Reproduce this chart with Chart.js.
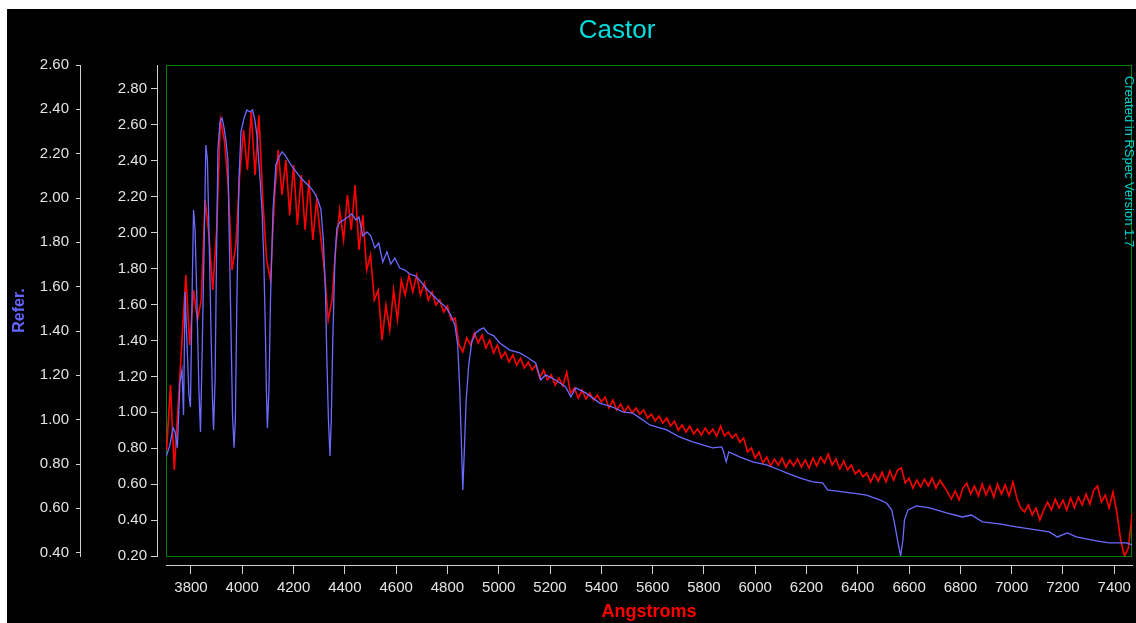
<!DOCTYPE html>
<html><head><meta charset="utf-8">
<script src="https://cdn.jsdelivr.net/npm/chart.js@4.4.1/dist/chart.umd.min.js"></script>
<style>html,body{margin:0;padding:0;background:#fff;overflow:hidden}canvas{display:block}</style>
</head><body>
<canvas id="c" width="1136" height="623"></canvas>
<script>
// ---- data ----
const CHART_TITLE = 'Castor';
const X_TITLE = 'Angstroms';
const Y_REF_TITLE = 'Refer.';
const SIDE_NOTE = 'Created in RSpec Version 1.7';

const X_TICKS = [3800,4000,4200,4400,4600,4800,5000,5200,5400,5600,5800,6000,6200,6400,6600,6800,7000,7200,7400];
const Y_TICKS_OBS = [0.2,0.4,0.6,0.8,1.0,1.2,1.4,1.6,1.8,2.0,2.2,2.4,2.6,2.8];
const Y_TICKS_REF = [0.4,0.6,0.8,1.0,1.2,1.4,1.6,1.8,2.0,2.2,2.4,2.6];

// reference spectrum (blue, outer "Refer." axis)
const WAVE_REF = [3704,3718,3730,3738,3747,3757,3765,3771,3777,3784,3792,3798,3804,3810,3816,3823,3831,3837,3843,3851,3858,3864,3870,3878,3884,3888,3894,3899,3905,3913,3921,3929,3936,3944,3950,3956,3962,3968,3973,3979,3987,3995,4007,4018,4030,4040,4049,4057,4067,4077,4084,4090,4094,4098,4104,4110,4120,4131,4143,4155,4166,4178,4190,4205,4225,4244,4264,4279,4295,4307,4316,4324,4330,4336,4342,4347,4353,4361,4369,4381,4396,4412,4427,4443,4455,4470,4486,4501,4517,4532,4548,4564,4579,4595,4614,4634,4653,4677,4700,4723,4747,4770,4794,4813,4829,4840,4848,4854,4860,4866,4873,4883,4895,4910,4926,4941,4957,4981,5004,5043,5082,5109,5144,5164,5183,5222,5261,5281,5300,5339,5394,5444,5483,5522,5550,5589,5655,5705,5756,5795,5834,5869,5877,5887,5897,5939,5990,6044,6095,6122,6173,6224,6263,6282,6341,6380,6434,6485,6512,6532,6543,6557,6567,6576,6582,6596,6629,6680,6746,6808,6843,6886,6952,7018,7096,7147,7178,7217,7252,7330,7381,7447,7470];
const FLUX_REF = [0.836,0.886,0.963,0.945,0.873,1.170,1.224,1.021,1.576,1.360,1.112,1.058,1.540,1.946,1.856,1.540,1.134,0.945,1.270,1.766,2.239,2.172,1.856,1.405,1.089,0.954,1.179,1.675,2.217,2.343,2.361,2.316,2.262,2.172,1.775,1.405,1.021,0.873,0.998,1.540,2.081,2.298,2.361,2.397,2.388,2.397,2.352,2.284,2.126,1.946,1.720,1.405,1.134,0.963,1.134,1.540,1.946,2.149,2.185,2.208,2.194,2.172,2.149,2.126,2.095,2.072,2.050,2.027,1.991,1.946,1.811,1.585,1.270,0.999,0.836,0.999,1.360,1.720,1.865,1.892,1.901,1.914,1.928,1.901,1.914,1.829,1.847,1.829,1.775,1.797,1.711,1.757,1.702,1.729,1.684,1.675,1.657,1.648,1.617,1.585,1.558,1.531,1.508,1.472,1.427,1.337,1.134,0.909,0.683,0.864,1.089,1.247,1.351,1.391,1.405,1.414,1.391,1.378,1.346,1.314,1.301,1.283,1.256,1.179,1.202,1.179,1.148,1.103,1.143,1.121,1.075,1.057,1.035,1.030,1.008,0.976,0.954,0.922,0.900,0.886,0.873,0.877,0.855,0.810,0.855,0.832,0.810,0.796,0.773,0.760,0.737,0.719,0.715,0.683,0.674,0.669,0.660,0.638,0.624,0.593,0.534,0.444,0.385,0.457,0.548,0.593,0.611,0.602,0.579,0.561,0.570,0.539,0.530,0.516,0.503,0.494,0.471,0.489,0.471,0.453,0.444,0.444,0.435];

// observed spectrum (red, inner axis)
const WAVE_OBS = [3705,3720,3735,3750,3765,3780,3795,3810,3825,3840,3855,3870,3885,3900,3915,3930,3945,3960,3975,3990,4005,4020,4035,4050,4065,4080,4095,4110,4125,4140,4155,4170,4185,4200,4215,4230,4245,4260,4275,4290,4305,4320,4335,4350,4365,4380,4395,4410,4425,4440,4455,4470,4485,4500,4515,4530,4545,4560,4575,4590,4605,4620,4635,4650,4665,4680,4695,4710,4725,4740,4755,4770,4785,4800,4815,4830,4845,4860,4875,4890,4905,4920,4935,4950,4965,4980,4995,
5010,5025,5040,5055,5070,5085,5100,5115,5130,5145,5160,5175,5190,5205,5220,5235,5250,5265,5280,5295,5310,5325,5340,5355,5370,5385,5400,5415,5430,5445,5460,5475,5490,5505,5520,5535,5550,5565,5580,5595,5610,5625,5640,5655,5670,5685,5700,5715,5730,5745,5760,5775,5790,5805,5820,5835,5850,5865,5880,5895,5910,5925,5940,5955,5970,5985,6000,6015,6030,6045,6060,6075,6090,6105,6120,6135,6150,6165,6180,6195,6210,6225,6240,6255,6270,6285,6300,6315,6330,6345,6360,6375,6390,6405,6420,6435,6450,6465,6480,6495,6510,6525,6540,6555,6570,6585,6600,6615,6630,6645,6660,6675,6690,6705,6720,6735,6750,6765,6780,6795,6810,6825,6840,6855,6870,6885,6900,6915,6930,6945,6960,6975,6990,7005,7020,7035,7050,7065,7080,7095,7110,7125,7140,7155,7170,7185,7200,7215,7230,7245,7260,7275,7290,7305,7320,7335,7350,7365,7380,7395,7410,7425,7440,7455,7470];
const FLUX_OBS = [0.790,1.152,0.679,1.041,1.402,1.764,1.375,1.681,1.514,1.625,2.182,1.987,1.681,2.015,2.627,2.516,2.265,1.792,1.931,2.321,2.572,2.349,2.672,2.321,2.655,2.182,1.848,1.737,2.182,2.460,2.210,2.405,2.098,2.377,2.043,2.321,2.015,2.293,1.959,2.182,1.987,1.792,1.514,1.625,1.931,2.126,1.959,2.210,2.015,2.265,1.904,2.098,1.792,1.876,1.625,1.681,1.402,1.597,1.458,1.681,1.514,1.737,1.653,1.764,1.670,1.764,1.653,1.720,1.625,1.670,1.597,1.625,1.558,1.592,1.514,1.525,1.375,1.336,1.414,1.375,1.441,1.386,1.430,1.358,1.402,1.330,1.375,
1.302,1.336,1.280,1.319,1.263,1.302,1.247,1.280,1.235,1.263,1.191,1.235,1.180,1.208,1.152,1.191,1.146,1.224,1.107,1.135,1.079,1.124,1.074,1.107,1.068,1.096,1.057,1.085,1.024,1.068,1.013,1.046,1.002,1.035,0.996,1.024,0.990,1.013,0.968,0.990,0.951,0.979,0.940,0.968,0.924,0.951,0.901,0.929,0.890,0.924,0.879,0.907,0.873,0.912,0.879,0.907,0.868,0.924,0.868,0.890,0.857,0.879,0.834,0.857,0.779,0.801,0.745,0.779,0.718,0.751,0.701,0.740,0.706,0.745,0.695,0.734,0.701,0.740,0.695,0.734,0.690,0.745,0.701,0.751,0.718,0.768,0.706,0.740,0.684,0.729,0.679,0.706,0.656,0.679,0.640,0.662,0.612,0.656,0.617,0.667,0.612,0.673,0.623,0.679,0.690,0.606,0.634,0.578,0.623,0.584,0.628,0.590,0.634,0.578,0.623,0.590,0.556,0.517,0.562,0.512,0.578,0.606,0.545,0.590,0.534,0.601,0.539,0.590,0.528,0.601,0.545,0.595,0.534,0.612,0.523,0.467,0.445,0.484,0.428,0.467,0.400,0.456,0.500,0.456,0.517,0.467,0.512,0.456,0.523,0.467,0.528,0.484,0.545,0.489,0.567,0.590,0.500,0.539,0.467,0.556,0.445,0.289,0.200,0.244,0.439];

// axis ranges
const X_MIN = 3702.6, X_MAX = 7470.1;
const Y_OBS_MIN = 0.2, Y_OBS_MAX = 2.9336;
const Y_REF_MIN = 0.385, Y_REF_MAX = 2.6;

// ---- styling ----
const FONT = '"Liberation Sans", Arial, sans-serif';
const AXIS_COLOR = '#cfcfcf';
const TICK_COLOR = '#e4e4e4';
const PLOT_BORDER = '#008000';

const pts = (xs, ys) => xs.map((x, i) => ({x: x, y: ys[i]}));
const setTicks = list => s => { s.ticks = list.map(v => ({value: v})); };

const framePlugin = {
  id: 'frame',
  beforeDraw(chart) {
    const ctx = chart.ctx;
    ctx.save();
    ctx.fillStyle = '#ffffff';
    ctx.fillRect(0, 0, chart.width, chart.height);
    ctx.fillStyle = '#000000';
    ctx.fillRect(7, 9, chart.width - 7, chart.height - 9);
    // chart title
    ctx.fillStyle = '#00dede';
    ctx.font = '26px ' + FONT;
    ctx.textAlign = 'center';
    ctx.textBaseline = 'middle';
    ctx.fillText(CHART_TITLE, 617, 31);
    ctx.restore();
  },
  beforeDatasetsDraw(chart) {
    const a = chart.chartArea, ctx = chart.ctx;
    ctx.save();
    ctx.strokeStyle = PLOT_BORDER;
    ctx.lineWidth = 1;
    ctx.strokeRect(Math.round(a.left) + 0.5, Math.round(a.top) + 0.5, Math.round(a.right - a.left) - 1, Math.round(a.bottom - a.top));
    ctx.restore();
  },
  afterDraw(chart) {
    const a = chart.chartArea, ctx = chart.ctx;
    ctx.save();
    ctx.translate(a.right - 4, a.top + 96.5);
    ctx.rotate(Math.PI / 2);
    ctx.fillStyle = '#00d2d2';
    ctx.font = '13px ' + FONT;
    ctx.textAlign = 'center';
    ctx.textBaseline = 'middle';
    ctx.fillText(SIDE_NOTE, 0, 0);
    ctx.restore();
  }
};

const tickFont = {family: FONT, size: 15};

new Chart(document.getElementById('c'), {
  type: 'line',
  data: {
    datasets: [
      {label: Y_REF_TITLE, data: pts(WAVE_REF, FLUX_REF), xAxisID: 'x', yAxisID: 'yRef',
       borderColor: '#6b6bff', borderWidth: 1.3, pointRadius: 0, tension: 0, order: 0},
      {label: CHART_TITLE, data: pts(WAVE_OBS, FLUX_OBS), xAxisID: 'x', yAxisID: 'y',
       borderColor: '#ff0000', borderWidth: 1.6, pointRadius: 0, tension: 0, order: 1}
    ]
  },
  options: {
    responsive: false,
    devicePixelRatio: 1,
    animation: false,
    events: [],
    layout: {padding: {left: 7, top: 65, right: 3, bottom: 0}},
    plugins: {
      legend: {display: false},
      tooltip: {enabled: false},
      title: {display: false}
    },
    scales: {
      x: {type: 'linear', position: 'bottom', weight: 1, min: X_MIN, max: X_MAX,
          afterBuildTicks: setTicks(X_TICKS),
          afterFit: s => { s.height = 58; },
          grid: {display: true, drawOnChartArea: false, drawTicks: true, tickLength: 9, color: AXIS_COLOR, tickColor: AXIS_COLOR},
          border: {display: true, color: AXIS_COLOR, width: 1},
          ticks: {color: TICK_COLOR, font: tickFont, padding: 5, maxRotation: 0, autoSkip: false, callback: v => String(v)},
          title: {display: true, text: X_TITLE, color: '#ff0000', font: {family: FONT, size: 18, weight: 'bold', lineHeight: 1.2}, padding: {top: 0, bottom: 0}}},
      xGap: {type: 'linear', position: 'bottom', weight: 0, display: true,
          afterFit: s => { s.height = 9; },
          grid: {display: false}, border: {display: false}, ticks: {display: false}},
      yRef: {type: 'linear', position: 'left', weight: 2, min: Y_REF_MIN, max: Y_REF_MAX,
          afterBuildTicks: setTicks(Y_TICKS_REF),
          afterFit: s => { s.width = 73; },
          grid: {display: true, drawOnChartArea: false, drawTicks: true, tickLength: 4, color: AXIS_COLOR, tickColor: AXIS_COLOR},
          border: {display: true, color: AXIS_COLOR, width: 1},
          ticks: {color: TICK_COLOR, font: tickFont, padding: 7, callback: v => Number(v).toFixed(2)},
          title: {display: true, text: Y_REF_TITLE, color: '#6464ff', font: {family: FONT, size: 16, weight: 'bold', lineHeight: 1.2}, padding: {top: 3, bottom: 0}}},
      y: {type: 'linear', position: 'left', weight: 1, min: Y_OBS_MIN, max: Y_OBS_MAX,
          afterBuildTicks: setTicks(Y_TICKS_OBS),
          afterFit: s => { s.width = 77; },
          grid: {display: true, drawOnChartArea: false, drawTicks: true, tickLength: 6, color: AXIS_COLOR, tickColor: AXIS_COLOR},
          border: {display: true, color: AXIS_COLOR, width: 1},
          ticks: {color: TICK_COLOR, font: tickFont, padding: 4, callback: v => Number(v).toFixed(2)}},
      yGap: {type: 'linear', position: 'left', weight: 0, display: true,
          afterFit: s => { s.width = 9; },
          grid: {display: false}, border: {display: false}, ticks: {display: false}}
    }
  },
  plugins: [framePlugin]
});
</script>
</body></html>
